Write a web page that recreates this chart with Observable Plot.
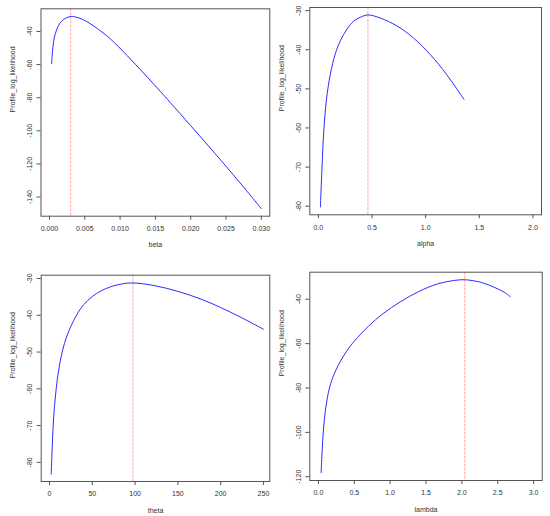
<!DOCTYPE html>
<html><head><meta charset="utf-8">
<script src="https://cdn.jsdelivr.net/npm/d3@7"></script>
<script src="https://cdn.jsdelivr.net/npm/@observablehq/plot@0.6"></script>
<style>
body{margin:0;background:#fff;}
#wrap{position:relative;width:550px;height:516px;background:#fff;}
#wrap svg{position:absolute;}
</style></head><body><div id="wrap"></div>
<script>
// ---- data ----
const betaGrid = [0.0003, 0.0004, 0.0005, 0.0007, 0.001, 0.0013, 0.0018, 0.0023, 0.003, 0.0039, 0.0047, 0.0063, 0.0086, 0.011, 0.0133, 0.0157, 0.0171, 0.02, 0.0225, 0.025, 0.0275, 0.03];
const betaLL   = [-59.5, -53.5, -49.0, -43.4, -39.2, -36.2, -33.4, -32.0, -30.9, -31.5, -32.7, -36.8, -44.4, -54.6, -65.0, -76.2, -82.9, -96.9, -109.1, -121.4, -134.1, -147];
const betaMLE = 0.003;

const alphaGrid = [0.019, 0.034, 0.049, 0.074, 0.112, 0.158, 0.205, 0.267, 0.329, 0.391, 0.462, 0.577, 0.732, 0.887, 1.042, 1.197, 1.358];
const alphaLL   = [-80.2, -70, -61.5, -53, -46.2, -41, -37.7, -34.7, -32.7, -31.7, -31.1, -31.9, -33.9, -37.0, -41.2, -46.4, -52.7];
const alphaMLE = 0.462;

const thetaGrid = [2.0, 2.6, 3.4, 4.3, 5.8, 7.8, 10.5, 14.8, 20.7, 31, 40, 50, 60, 72, 84, 97.5, 124, 150, 177, 200, 224, 250];
const thetaLL   = [-83.2, -79.2, -74.6, -70.0, -64.8, -60.0, -55.2, -50.0, -45.4, -40.2, -37.1, -34.9, -33.4, -32.2, -31.5, -31.2, -32.0, -33.5, -35.6, -37.9, -40.6, -43.8];
const thetaMLE = 97.5;

const lambdaGrid = [0.038, 0.05, 0.07, 0.1, 0.15, 0.2, 0.3, 0.4, 0.5, 0.7, 0.9, 1.15, 1.4, 1.66, 1.9, 2.04, 2.27, 2.45, 2.59, 2.676];
const lambdaLL   = [-118.2, -109.5, -99.0, -89.5, -80.5, -75.3, -68.3, -63.1, -58.9, -52.1, -46.5, -41.0, -36.5, -33.1, -31.5, -31.2, -32.4, -34.6, -36.8, -38.9];
const lambdaMLE = 2.04;

const betaTicks = [0, 0.005, 0.01, 0.015, 0.02, 0.025, 0.03];
const alphaTicks = [0, 0.5, 1, 1.5, 2];
const thetaTicks = [0, 50, 100, 150, 200, 250];
const lambdaTicks = [0, 0.5, 1, 1.5, 2, 2.5, 3];
const ll1Ticks = [-40, -60, -80, -100, -120, -140];
const ll2Ticks = [-30, -40, -50, -60, -70, -80];
const ll3Ticks = [-30, -40, -50, -60, -70, -80];
const ll4Ticks = [-40, -60, -80, -100, -120];

const yTitle = "Profile_log_likelihood";

const panels = [
  {xs: betaGrid, ys: betaLL, mle: betaMLE, xlabel: "beta", xticks: betaTicks, yticks: ll1Ticks,
   xfmt: d => d.toFixed(3), xdomain: [-0.0012, 0.0312], ydomain: [-151.6, -26.3],
   left: 0, top: 0, m: [8.3, 5.7, 42.3, 40.5]},
  {xs: alphaGrid, ys: alphaLL, mle: alphaMLE, xlabel: "alpha", xticks: alphaTicks, yticks: ll2Ticks,
   xfmt: d => d.toFixed(1), xdomain: [-0.08, 2.08], ydomain: [-82.2, -29.2],
   left: 275, top: 0, m: [7, 9, 43.7, 34.3]},
  {xs: thetaGrid, ys: thetaLL, mle: thetaMLE, xlabel: "theta", xticks: thetaTicks, yticks: ll3Ticks,
   xfmt: d => String(d), xdomain: [-9.7, 257.4], ydomain: [-85.2, -29.1],
   left: 0, top: 258, m: [16.7, 5.7, 35, 40.7]},
  {xs: lambdaGrid, ys: lambdaLL, mle: lambdaMLE, xlabel: "lambda", xticks: lambdaTicks, yticks: ll4Ticks,
   xfmt: d => d.toFixed(1), xdomain: [-0.12, 3.12], ydomain: [-121.7, -27.8],
   left: 275, top: 258, m: [13.7, 8.3, 36, 34.3]}
];

const wrap = document.getElementById("wrap");
const font = "'Liberation Sans', Arial, Helvetica, sans-serif";
const ink = "#333";
const boxColor = "#555";

for (const p of panels) {
  const rows = p.xs.map((x, i) => ({x, y: p.ys[i]}));
  const svg = Plot.plot({
    width: 275, height: 258,
    marginTop: p.m[0], marginRight: p.m[1], marginBottom: p.m[2], marginLeft: p.m[3],
    style: {fontFamily: font, fontSize: "7px", color: ink, background: "transparent", overflow: "visible"},
    x: {domain: p.xdomain, label: null},
    y: {domain: p.ydomain, label: null},
    marks: [
      Plot.ruleX([p.mle], {stroke: "#ff0000", strokeOpacity: 0.35, strokeWidth: 1, strokeDasharray: "3,1"}),
      Plot.line(rows, {x: "x", y: "y", stroke: "#2b2bff", strokeWidth: 1, curve: "catmull-rom"}),
      Plot.frame({stroke: boxColor, strokeWidth: 1}),
      Plot.axisX({ticks: p.xticks, tickFormat: p.xfmt, tickSize: 4, tickPadding: 6, fontSize: 7, stroke: boxColor, fill: ink, label: null}),
      Plot.axisY({ticks: p.yticks, tickFormat: d => String(d), tickSize: 4, tickPadding: 5, tickRotate: -90, fontSize: 7, stroke: boxColor, fill: ink, label: null}),
      Plot.text([p.xlabel], {frameAnchor: "bottom", dy: 29, lineAnchor: "middle", fontSize: 7, fill: ink}),
      Plot.text([yTitle], {frameAnchor: "left", dx: -28.5, rotate: -90, lineAnchor: "middle", fontSize: 7, fill: ink})
    ]
  });
  svg.style.left = p.left + "px";
  svg.style.top = p.top + "px";
  wrap.appendChild(svg);
}
</script>
</body></html>
